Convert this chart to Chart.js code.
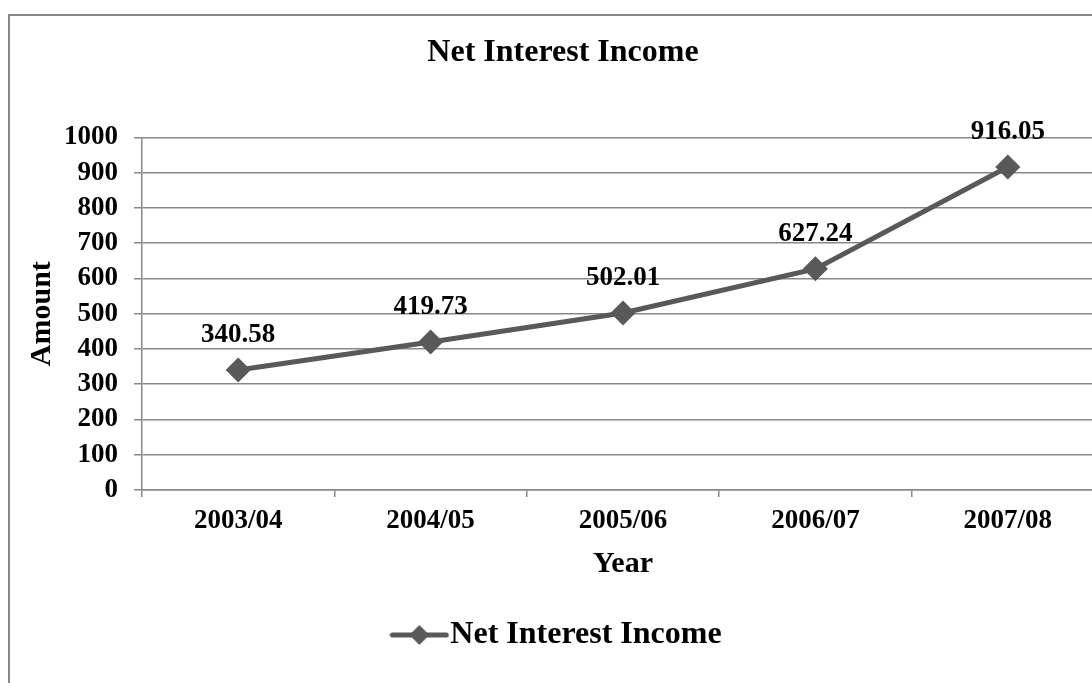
<!DOCTYPE html>
<html lang="en">
<head>
    <meta charset="UTF-8">
    <title>Net Interest Income</title>
    <style>
        * {
            margin: 0;
            padding: 0;
            box-sizing: border-box;
        }

        body {
            width: 1092px;
            height: 683px;
            overflow: hidden;
            background-color: #fff;
        }

        .frame {
            position: absolute;
            left: 8px;
            top: 14px;
            width: 1164px;
            height: 704px;
            border: 2px solid #888888;
            background-color: #fff;
        }
    </style>
</head>
<body>
    <div class="frame">
        <canvas id="nii" width="1160" height="700"></canvas>
    </div>

    <script src="https://cdn.jsdelivr.net/npm/chart.js"></script>
    <script>
        const years = ['2003/04', '2004/05', '2005/06', '2006/07', '2007/08'];
        const netInterestIncome = [340.58, 419.73, 502.01, 627.24, 916.05];
        const yTicks = [0, 100, 200, 300, 400, 500, 600, 700, 800, 900, 1000];

        const serif = '"Liberation Serif", "Times New Roman", serif';
        const lineColor = '#595959';
        const gridColor = '#888888';

        // legend symbol: line with a diamond in the middle
        function legendSymbol() {
            const c = document.createElement('canvas');
            c.width = 60;
            c.height = 24;
            const g = c.getContext('2d');
            g.strokeStyle = lineColor;
            g.lineWidth = 5;
            g.lineCap = 'round';
            g.beginPath();
            g.moveTo(3, 12);
            g.lineTo(57, 12);
            g.stroke();
            g.fillStyle = lineColor;
            g.beginPath();
            g.moveTo(30, 2);
            g.lineTo(40, 12);
            g.lineTo(30, 22);
            g.lineTo(20, 12);
            g.closePath();
            g.fill();
            return c;
        }

        // values written above each point
        const pointLabels = {
            id: 'pointLabels',
            afterDatasetsDraw(chart) {
                const ctx = chart.ctx;
                const meta = chart.getDatasetMeta(0);
                ctx.save();
                ctx.font = 'bold 27px ' + serif;
                ctx.fillStyle = '#000';
                ctx.textAlign = 'center';
                ctx.textBaseline = 'middle';
                meta.data.forEach((pt, i) => {
                    ctx.fillText(netInterestIncome[i].toFixed(2), pt.x, pt.y - 35);
                });
                ctx.restore();
            }
        };

        window.onload = function() {
            const ctx = document.getElementById('nii').getContext('2d');
            new Chart(ctx, {
                type: 'line',
                data: {
                    labels: years,
                    datasets: [{
                        label: 'Net Interest Income',
                        data: netInterestIncome,
                        borderColor: lineColor,
                        backgroundColor: lineColor,
                        borderWidth: 5,
                        pointStyle: 'rectRot',
                        pointRadius: 9,
                        pointHoverRadius: 9,
                        tension: 0,
                        fill: false
                    }]
                },
                options: {
                    responsive: false,
                    animation: false,
                    devicePixelRatio: 1,
                    layout: {
                        padding: { left: 12, right: 66, top: 0, bottom: 55 }
                    },
                    plugins: {
                        title: {
                            display: true,
                            text: 'Net Interest Income',
                            color: '#000',
                            font: { family: serif, size: 32, weight: 'bold' },
                            padding: { top: 18, bottom: 65 }
                        },
                        legend: {
                            position: 'bottom',
                            labels: {
                                color: '#000',
                                font: { family: serif, size: 32, weight: 'bold' },
                                usePointStyle: true,
                                pointStyle: legendSymbol(),
                                pointStyleWidth: 30,
                                padding: 10
                            }
                        },
                        tooltip: { enabled: false }
                    },
                    scales: {
                        x: {
                            offset: true,
                            afterFit(scale) { scale.height = 119; },
                            grid: {
                                offset: true,
                                drawOnChartArea: false,
                                drawTicks: true,
                                tickLength: 7,
                                color: gridColor,
                                lineWidth: 1.5
                            },
                            border: { color: gridColor, width: 1.5 },
                            ticks: {
                                color: '#000',
                                padding: 8,
                                maxRotation: 0,
                                font: { family: serif, size: 27, weight: 'bold' }
                            },
                            title: {
                                display: true,
                                text: 'Year',
                                color: '#000',
                                font: { family: serif, size: 30, weight: 'bold' },
                                padding: { top: 0, bottom: 27 }
                            }
                        },
                        y: {
                            min: yTicks[0],
                            max: yTicks[yTicks.length - 1],
                            afterFit(scale) { scale.width = 120; },
                            afterBuildTicks(scale) {
                                scale.ticks = yTicks.map(v => ({ value: v }));
                            },
                            grid: {
                                color: gridColor,
                                lineWidth: 1.5,
                                tickLength: 8
                            },
                            border: { color: gridColor, width: 1.5 },
                            ticks: {
                                color: '#000',
                                padding: 16,
                                autoSkip: false,
                                callback: (v) => String(v),
                                font: { family: serif, size: 27, weight: 'bold' }
                            },
                            title: {
                                display: true,
                                text: 'Amount',
                                color: '#000',
                                font: { family: serif, size: 30, weight: 'bold' },
                                padding: { top: 2, bottom: 0 }
                            }
                        }
                    }
                },
                plugins: [pointLabels]
            });
        };
    </script>
</body>
</html>
